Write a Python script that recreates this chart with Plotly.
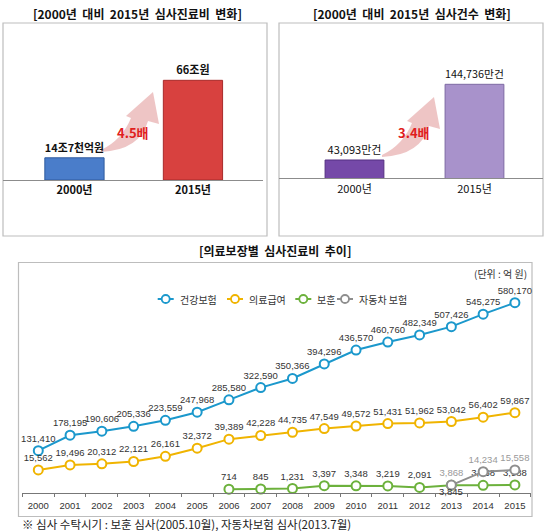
import plotly.graph_objects as go

W, H = 550, 531

# top-left: 심사진료비 (조원)
cost_years = ["2000년", "2015년"]
cost_values = [14.7, 66]
cost_labels = ["14조7천억원", "66조원"]

# top-right: 심사건수 (만건)
count_years = ["2000년", "2015년"]
count_values = [43093, 144736]
count_labels = ["43,093만건", "144,736만건"]

# bottom: 의료보장별 심사진료비 추이 (억 원)
years = [str(y) for y in range(2000, 2016)]
health = [131410, 178195, 190606, 205336, 223559, 247968, 285580, 322590,
          350366, 394296, 436570, 460760, 482349, 507426, 545275, 580170]
medicaid = [15562, 19496, 20312, 22121, 26161, 32372, 39389, 42228,
            44735, 47549, 49572, 51431, 51962, 53042, 56402, 59867]
veteran_years = years[6:]
veteran = [714, 845, 1231, 3397, 3348, 3219, 2091, 3845, 3658, 3988]
auto_years = years[13:]
auto = [3868, 14234, 15558]

FONT = "Liberation Sans, Noto Sans CJK KR, sans-serif"
KFONT = "Noto Sans CJK KR, sans-serif"

BLUE = "#1b98cc"
YELLOW = "#f0b400"
GREY = "#8e8e8e"
GREEN = "#6cb13c"


def fx(p):
    return p / W


def fy(p):
    return 1 - p / H


fig = go.Figure()

# --- top left bars
fig.add_trace(go.Bar(
    x=[0, 1], y=cost_values, width=0.5,
    marker=dict(color=["#4a7dca", "#d8413f"], line=dict(color=["#2f5b9e", "#a82a2a"], width=1)),
    text=cost_labels, textposition="outside", cliponaxis=False,
    textfont=dict(family=KFONT, size=11, color="#111", weight="bold"),
    xaxis="x", yaxis="y", showlegend=False, hoverinfo="skip"))

# --- top right bars
fig.add_trace(go.Bar(
    x=[0, 1], y=count_values, width=0.49,
    marker=dict(color=["#7549a8", "#a892cb"], line=dict(color=["#553181", "#7d69a3"], width=1)),
    text=count_labels, textposition="outside", cliponaxis=False,
    textfont=dict(family=KFONT, size=11, color="#111"),
    xaxis="x2", yaxis="y2", showlegend=False, hoverinfo="skip"))


def fmt(vals):
    return [f"{v:,}" for v in vals]


def line(xs, ys, color, yaxis, text=None, tcolor="#333"):
    return go.Scatter(
        x=xs, y=ys, mode="lines+markers+text",
        line=dict(color=color, width=2),
        marker=dict(symbol="circle", size=9, color="white", line=dict(color=color, width=2)),
        text=text if text is not None else fmt(ys), textposition="top center", cliponaxis=False,
        textfont=dict(family=FONT, size=9.5, color=tcolor),
        xaxis="x3", yaxis=yaxis, showlegend=False, hoverinfo="skip")


fig.add_trace(line(years, health, BLUE, "y3"))
fig.add_trace(line(years, medicaid, YELLOW, "y4"))
# 2013 보훈 label sits under its point (drawn as annotation below)
vet_text = fmt(veteran)
vet_text[7] = ""
fig.add_trace(line(veteran_years, veteran, GREEN, "y4", text=vet_text))
fig.add_trace(line(auto_years, auto, GREY, "y4", tcolor="#9a9a9a"))

shapes = []
# panel frames
for x0, y0, x1, y1 in [(3, 23, 267, 236), (279, 23, 543, 236), (18.5, 262.5, 532, 516.5)]:
    shapes.append(dict(type="rect", xref="paper", yref="paper",
                       x0=fx(x0), x1=fx(x1), y0=fy(y0), y1=fy(y1),
                       line=dict(color="#bdbdbd", width=1.2), layer="below"))


# curved growth arrows
def arrow(dx, dy):
    pts = [(101, 150), (122, 140), (131, 118), (126, 116), (153, 92),
           (159, 124), (148, 121), (140, 150), (101, 152)]
    p = [(fx(a + dx), fy(b + dy)) for a, b in pts]
    return (f"M {p[0][0]},{p[0][1]} Q {p[1][0]},{p[1][1]} {p[2][0]},{p[2][1]} "
            f"L {p[3][0]},{p[3][1]} L {p[4][0]},{p[4][1]} L {p[5][0]},{p[5][1]} "
            f"L {p[6][0]},{p[6][1]} Q {p[7][0]},{p[7][1]} {p[8][0]},{p[8][1]} Z")


for dx, dy in [(0, 0), (281, 5)]:
    shapes.append(dict(type="path", xref="paper", yref="paper", path=arrow(dx, dy),
                       fillcolor="rgba(224,150,150,0.55)", line=dict(width=0), layer="below"))

# custom legend for bottom chart
legend_items = [("건강보험", BLUE, 165.7), ("의료급여", YELLOW, 235), ("보훈", GREEN, 303.3), ("자동차 보험", GREY, 345)]
annotations = []
for name, color, cx in legend_items:
    shapes.append(dict(type="line", xref="paper", yref="paper",
                       x0=fx(cx - 8), x1=fx(cx + 8), y0=fy(299), y1=fy(299),
                       line=dict(color=color, width=2)))
    shapes.append(dict(type="circle", xref="paper", yref="paper",
                       x0=fx(cx - 4), x1=fx(cx + 4), y0=fy(303), y1=fy(295),
                       fillcolor="white", line=dict(color=color, width=1.8)))
    annotations.append(dict(text=name, x=fx(cx + 12), y=fy(299), xref="paper", yref="paper",
                            xanchor="left", yanchor="middle", showarrow=False,
                            font=dict(family=KFONT, size=10, color="#333")))

titles = [
    ("[2000년  대비  2015년  심사진료비  변화]", 137, 13),
    ("[2000년  대비  2015년  심사건수  변화]", 412, 13),
    ("[의료보장별  심사진료비  추이]", 275, 250),
]
for text, x, y in titles:
    annotations.append(dict(text=text, x=fx(x), y=fy(y), xref="paper", yref="paper",
                            xanchor="center", yanchor="middle", showarrow=False,
                            font=dict(family=KFONT, size=12, color="#111", weight="bold")))

annotations += [
    # category axes take the category's serial number here
    dict(text=f"{veteran[7]:,}", x=years.index(veteran_years[7]), y=veteran[7], xref="x3", yref="y4",
         yshift=-6, xanchor="center", yanchor="middle", showarrow=False,
         font=dict(family=FONT, size=9.5, color="#333")),
    dict(text="<b>4.5배</b>", x=fx(133), y=fy(132), xref="paper", yref="paper", showarrow=False,
         xanchor="center", yanchor="middle", font=dict(family=KFONT, size=13, color="#e01e1e")),
    dict(text="<b>3.4배</b>", x=fx(414), y=fy(133), xref="paper", yref="paper", showarrow=False,
         xanchor="center", yanchor="middle", font=dict(family=KFONT, size=13, color="#e01e1e")),
    dict(text="(단위 : 억 원)", x=fx(529), y=fy(274), xref="paper", yref="paper", showarrow=False,
         xanchor="right", yanchor="middle", font=dict(family=KFONT, size=10, color="#333")),
    dict(text="※ 심사 수탁시기 : 보훈 심사(2005.10월), 자동차보험 심사(2013.7월)", x=fx(20), y=fy(524),
         xref="paper", yref="paper", showarrow=False, xanchor="left", yanchor="middle",
         font=dict(family=KFONT, size=11.5, color="#222")),
]

bar_x = dict(showgrid=False, zeroline=False, showline=True, linecolor="#8c8c8c", linewidth=1,
             ticks="", tickmode="array", tickvals=[0, 1], fixedrange=True, automargin=False)
bar_y = dict(showgrid=False, zeroline=False, showline=False, showticklabels=False,
             fixedrange=True, automargin=False)

fig.update_layout(
    width=W, height=H, margin=dict(l=0, r=0, t=0, b=0, pad=0),
    paper_bgcolor="white", plot_bgcolor="rgba(0,0,0,0)",
    xaxis=dict(bar_x, domain=[fx(3), fx(263)], range=[-0.603, 1.591], anchor="y",
               ticktext=cost_years, tickfont=dict(family=KFONT, size=11, color="#111", weight="bold")),
    yaxis=dict(bar_y, domain=[fy(180), fy(40)], range=[0, 92.7], anchor="x"),
    xaxis2=dict(bar_x, domain=[fx(279), fx(543)], range=[-0.629, 1.571], anchor="y2",
                ticktext=count_years, tickfont=dict(family=KFONT, size=11, color="#111")),
    yaxis2=dict(bar_y, domain=[fy(178.3), fy(40)], range=[18522, 204212], anchor="x2"),
    xaxis3=dict(type="category", categoryarray=years, range=[-0.5, 15.5],
                domain=[fx(22.4), fx(530.8)], anchor="y3",
                showgrid=False, zeroline=False, showline=True, linecolor="#777", linewidth=1,
                ticks="outside", tickson="boundaries", ticklen=3, tickcolor="#777", tickangle=0,
                ticklabelstandoff=4,
                tickfont=dict(family=FONT, size=9.5, color="#333"), fixedrange=True, automargin=False),
    yaxis3=dict(bar_y, domain=[fy(492.7), fy(290)], range=[3940, 618557], anchor="x3"),
    yaxis4=dict(bar_y, overlaying="y3", range=[-2010, 154720], anchor="x3"),
    shapes=shapes, annotations=annotations,
)

fig.write_html("out.html", config={"displayModeBar": False},
               post_script="document.body.style.margin='0';")
